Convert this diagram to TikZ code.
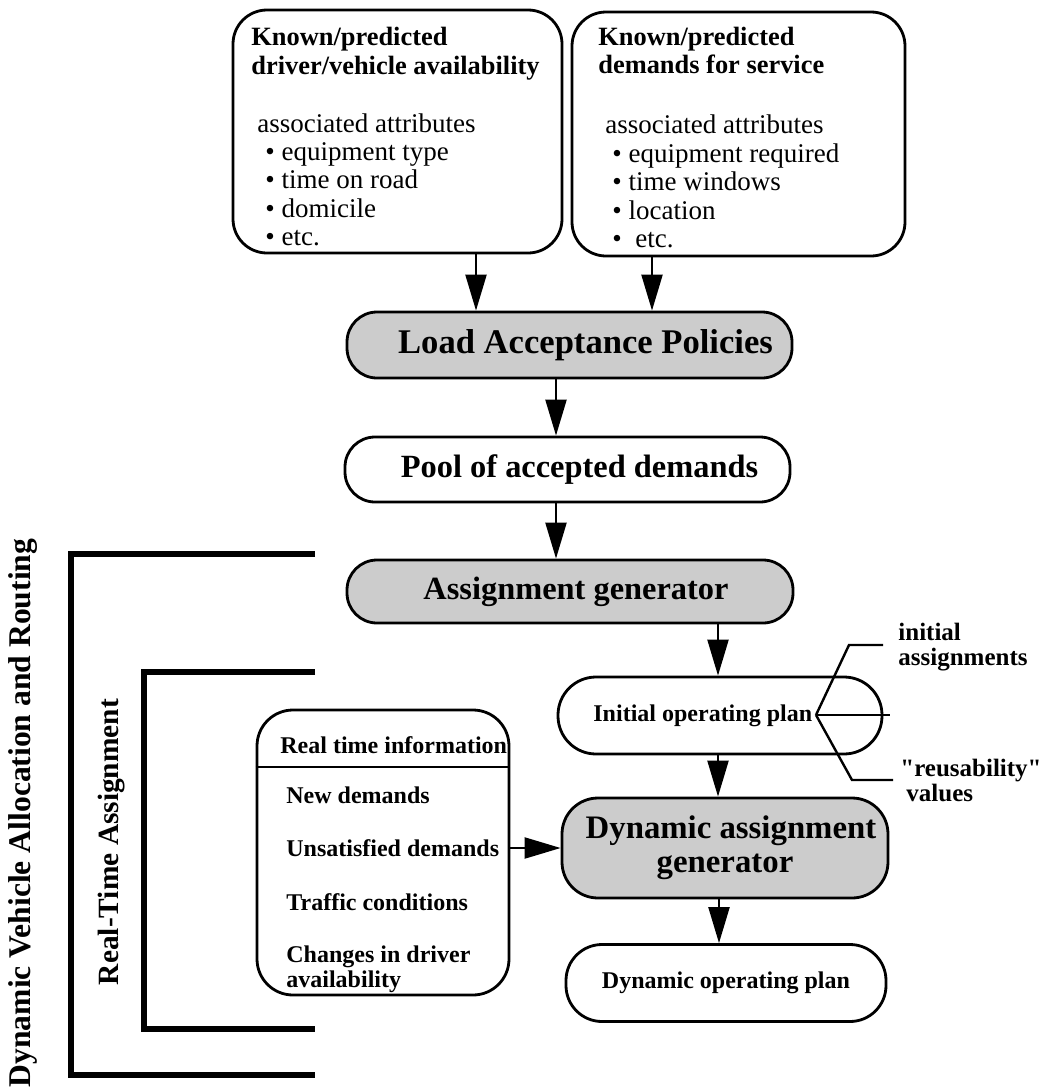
\documentclass[tikz,border=0pt]{standalone}
\usepackage{fontspec}
\setmainfont{Liberation Serif}
\newfontfamily\qfont{Liberation Serif}[Ligatures=Common]
\usetikzlibrary{arrows.meta}
\begin{document}
\begin{tikzpicture}[x=0.5pt,y=-0.5pt,
  box/.style={draw,line width=1.4pt,rounded corners=16pt,inner sep=0pt},
  graybox/.style={box,fill=gray!40},
  arr/.style={line width=1.1pt,-{Triangle[length=18pt,width=10.5pt]}},
  bracket/.style={line width=2.6pt},
  fork/.style={line width=1.2pt},
  txt/.style={anchor=base west,inner sep=0pt},
  big/.style={font=\fontsize{16.2}{19}\selectfont\bfseries},
  mid/.style={font=\fontsize{12}{14}\selectfont\bfseries},
  lab/.style={font=\fontsize{12.5}{14}\selectfont\bfseries},
  hdr/.style={font=\fontsize{13.2}{15}\selectfont\bfseries},
  reg/.style={font=\fontsize{13.5}{15}\selectfont}]
\useasboundingbox (0,0) rectangle (1043,1092);

% top boxes
\node[box,rounded corners=17pt,minimum width=164.5pt,minimum height=121.5pt] (avail) at (397.5,131.5) {};
\node[box,rounded corners=17pt,minimum width=166.5pt,minimum height=122pt] (dem) at (738.5,134) {};
\node[txt,hdr] (a1) at (251,45) {Known/predicted};
\node[txt,hdr] (a2) at (251,74) {driver/vehicle availability};
\node[txt,reg] (a3) at (257,132) {associated attributes};
\node[txt,reg] (a4) at (265,160) {\textbullet\ equipment type};
\node[txt,reg] (a5) at (265,188) {\textbullet\ time on road};
\node[txt,reg] (a6) at (265,217) {\textbullet\ domicile};
\node[txt,reg] (a7) at (265,245) {\textbullet\ etc.};
\node[txt,hdr] (d1) at (598,45) {Known/predicted};
\node[txt,hdr] (d2) at (598,73) {demands for service};
\node[txt,reg] (d3) at (605,133) {associated attributes};
\node[txt,reg] (d4) at (612,162) {\textbullet\ equipment required};
\node[txt,reg] (d5) at (612,190) {\textbullet\ time windows};
\node[txt,reg] (d6) at (612,219) {\textbullet\ location};
\node[txt,reg] (d7) at (612,247) {\textbullet\ \ etc.};

% main chain
\node[graybox,font=\fontsize{17.3}{19}\selectfont\bfseries,rounded corners=15pt,minimum width=222.5pt,minimum height=33pt] (load) at (569.5,345) {\hspace*{16pt}Load Acceptance Policies};
\node[box,big,rounded corners=15pt,minimum width=222.5pt,minimum height=32.5pt] (pool) at (567.5,469.5) {\hspace*{12pt}Pool of accepted demands};
\node[graybox,big,rounded corners=15pt,minimum width=223pt,minimum height=31.5pt] (assign) at (570,591.5) {\hspace*{6pt}Assignment generator};
\node[box,rounded corners=19pt,minimum width=162pt,minimum height=38.5pt] (init) at (720,715.5) {};
\node[txt,mid] (initT) at (593,721) {Initial operating plan};
\node[graybox,font=\fontsize{16.4}{19}\selectfont\bfseries,rounded corners=18pt,minimum width=163pt,minimum height=50pt,align=center] (dyn) at (725,848) {\hspace*{6pt}Dynamic assignment\\[-2pt]generator};
\node[box,mid,rounded corners=18pt,minimum width=160pt,minimum height=38.5pt] (dplan) at (726,983) {Dynamic operating plan};

% real time box
\node[box,rounded corners=18pt,minimum width=126pt,minimum height=142.5pt] (rt) at (383,852.5) {};
\draw[line width=1.4pt] (rt.west |- 0,767) coordinate (dl) -- (dl -| rt.east);
\node[txt,mid] (r0) at (280,753) {Real time information};
\node[txt,mid] (r1) at (286,803) {New demands};
\node[txt,mid] (r2) at (286,856) {Unsatisfied demands};
\node[txt,mid] (r3) at (286,910) {Traffic conditions};
\node[txt,mid] (r4) at (286,962) {Changes in driver};
\node[txt,mid] (r5) at (286,987) {availability};

% arrows
\draw[arr] ([xshift=39.25pt]avail.south) -- ([xshift=39.25pt]avail.south |- load.north);
\draw[arr] ([xshift=-43.25pt]dem.south) -- ([xshift=-43.25pt]dem.south |- load.north);
\draw[arr] ([xshift=-6.75pt]load.south) -- ([xshift=-6.75pt]load.south |- pool.north);
\draw[arr] ([xshift=-5.75pt]pool.south) -- ([xshift=-5.75pt]pool.south |- assign.north);
\draw[arr] ([xshift=74pt]assign.south) -- ([xshift=74pt]assign.south |- init.north);
\draw[arr] ([xshift=-1pt]init.south) -- ([xshift=-1pt]init.south |- dyn.north);
\draw[arr] ([xshift=-3pt]dyn.south) -- ([xshift=-3pt]dyn.south |- dplan.north);
\draw[arr] (rt.east |- dyn.west) -- (dyn.west);

% fork at initial operating plan
\coordinate (fk) at (816,715);
\coordinate (fu) at (849,645);
\coordinate (fue) at (883,645);
\coordinate (fm) at (890,715);
\coordinate (fd) at (852,780);
\coordinate (fde) at (893,780);
\draw[fork] (fk) -- (fu) -- (fue);
\draw[fork] (fk) -- (fm);
\draw[fork] (fk) -- (fd) -- (fde);
\node[txt,lab] (l1) at (898,640) {initial};
\node[txt,lab] (l2) at (898,665) {assignments};
\node[txt,lab] (l3) at (900,776) {\qfont\bfseries "reusability"};
\node[txt,lab] (l4) at (906,801) {values};

% brackets
\coordinate (o1) at (315,554);
\coordinate (o2) at (71,554);
\coordinate (o3) at (71,1075);
\coordinate (o4) at (315,1075);
\draw[bracket] (o1) -- (o2) -- (o3) -- (o4);
\coordinate (i1) at (315,672);
\coordinate (i2) at (144,672);
\coordinate (i3) at (144,1029);
\coordinate (i4) at (315,1029);
\draw[bracket] (i1) -- (i2) -- (i3) -- (i4);
\node[rotate=90,font=\fontsize{15.8}{18}\selectfont\bfseries,inner sep=0pt] (outerlbl) at (23,813) {Dynamic Vehicle Allocation and Routing};
\node[rotate=90,font=\fontsize{14.7}{17}\selectfont\bfseries,inner sep=0pt] (innerlbl) at (112,842) {Real-Time Assignment};
\end{tikzpicture}
\end{document}
